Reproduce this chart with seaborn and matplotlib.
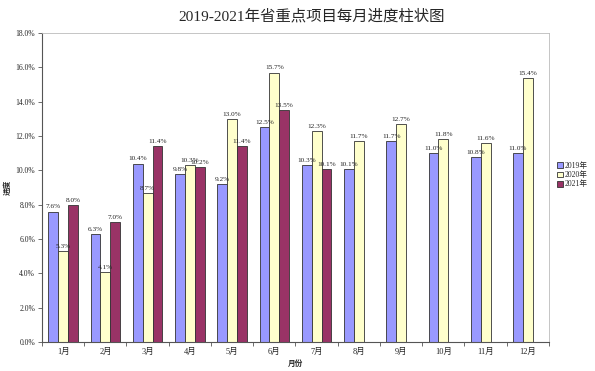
import matplotlib
matplotlib.use("Agg")
import matplotlib.pyplot as plt
import seaborn as sns
import pandas as pd
import numpy as np

months = ["1月", "2月", "3月", "4月", "5月", "6月", "7月", "8月", "9月", "10月", "11月", "12月"]
years = ["2019年", "2020年", "2021年"]
v2019 = [7.6, 6.3, 10.4, 9.8, 9.2, 12.5, 10.3, 10.1, 11.7, 11.0, 10.8, 11.0]
v2020 = [5.3, 4.1, 8.7, 10.3, 13.0, 15.7, 12.3, 11.7, 12.7, 11.8, 11.6, 15.4]
v2021 = [8.0, 7.0, 11.4, 10.2, 11.4, 13.5, 10.1]
yticks = [0, 2, 4, 6, 8, 10, 12, 14, 16, 18]
colors = ["#9999FF", "#FFFFCC", "#993366"]

rows = []
for y, vals in zip(years, [v2019, v2020, v2021]):
    for m, v in zip(months, vals):
        rows.append({"月份": m, "年份": y, "进度": v})
df = pd.DataFrame(rows)

sns.set_theme(style="white")
plt.rcParams["font.family"] = ["Liberation Serif", "Noto Sans CJK SC", "DejaVu Sans"]

fig = plt.figure(figsize=(5.95, 3.71), dpi=100)
ax = fig.add_axes([0.0706, 0.078, 0.852, 0.833])

sns.barplot(data=df, x="月份", y="进度", hue="年份", order=months, hue_order=years,
            palette=colors, width=0.7, edgecolor="#333333", linewidth=0.6,
            saturation=1, ax=ax, legend=True)

for cont in ax.containers:
    labels = [f"{b.get_height():.1f}%" if not np.isnan(b.get_height()) else "" for b in cont]
    ax.bar_label(cont, labels=labels, fontsize=5.2, padding=1.5, color="#222222")

ax.set_ylim(0, 18)
ax.set_yticks(yticks)
ax.set_yticklabels([f"{t:.1f}%" for t in yticks], fontsize=5.5)
ax.set_xlim(-0.5, 11.5)
ax.tick_params(axis="x", labelsize=6, length=0, pad=4)
ax.tick_params(axis="y", length=3, width=0.6, pad=2, left=True, color="#555555")
ax.set_xticks(np.arange(-0.5, 12, 1), minor=True)
ax.tick_params(axis="x", which="minor", length=3, width=0.6, bottom=True, color="#555555")

for s in ["top", "right"]:
    ax.spines[s].set_color("#BBBBBB")
    ax.spines[s].set_linewidth(0.6)
for s in ["left", "bottom"]:
    ax.spines[s].set_color("#555555")
    ax.spines[s].set_linewidth(0.8)

ax.set_xlabel("月份", fontsize=5.5, fontweight="bold", family=["Noto Sans CJK SC"])
ax.xaxis.set_label_coords(0.5, -0.055)
ax.set_ylabel("进度", fontsize=5.5, fontweight="bold", family=["Noto Sans CJK SC"])
ax.yaxis.set_label_coords(-0.06, 0.5)

fig.suptitle("2019-2021年省重点项目每月进度柱状图", fontsize=11.1, y=0.975, x=0.523)

leg = ax.legend(loc="center left", bbox_to_anchor=(1.01, 0.54), frameon=False,
                fontsize=5.5, handlelength=0.8, handleheight=0.8, handletextpad=0.2,
                labelspacing=0.15, borderaxespad=0)

fig.savefig("out.png", dpi=100)
